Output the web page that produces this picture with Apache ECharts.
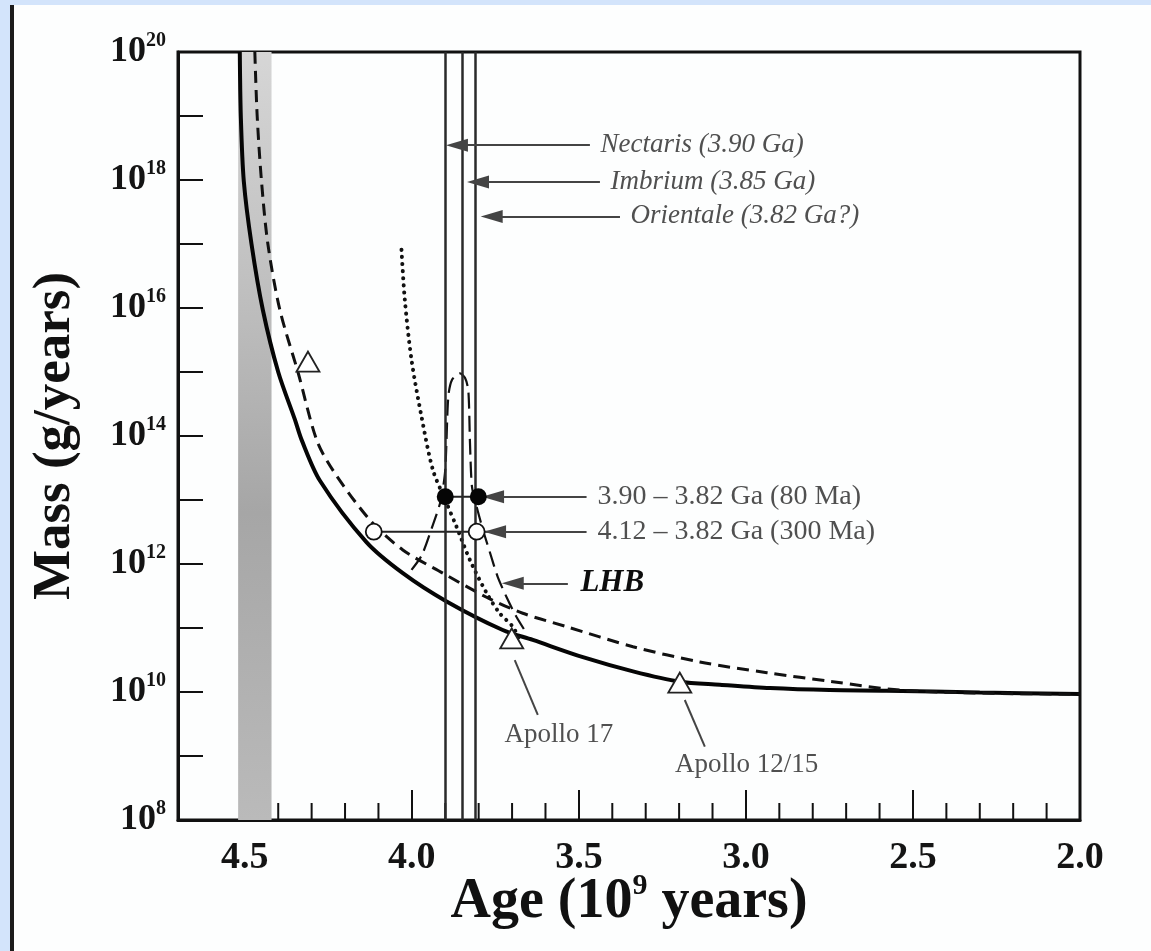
<!DOCTYPE html>
<html><head><meta charset="utf-8">
<script src="https://cdn.jsdelivr.net/npm/echarts@6/dist/echarts.min.js"></script>
<style>
html,body{margin:0;padding:0;width:1151px;height:951px;overflow:hidden;background:#d3e4fb;}
#panel{position:absolute;left:10px;top:5px;width:1141px;height:946px;background:#fdfefe;border-left:4px solid #1c1c1c;box-sizing:border-box;}
#chart{position:absolute;left:0;top:0;width:1151px;height:951px;}
</style></head><body>
<div id="panel"></div><div id="chart"></div>
<script>
// ---- data ----
const xTickLabels = ['2.0','2.5','3.0','3.5','4.0','4.5'];
const xMinorTicks = [2.1,2.2,2.3,2.4,2.6,2.7,2.8,2.9,3.1,3.2,3.3,3.4,3.6,3.7,3.8,3.9,4.1,4.2,4.3,4.4];
const yTickExponents = [8,10,12,14,16,18,20];

const solidAge  = [4.515,4.512,4.503,4.48,4.446,4.40,4.35,4.33,4.275,4.136,4.027,3.896,3.728,3.638,3.488,3.338,3.198,3.078,2.928,2.75,2.579,2.30,2.0];
const solidMass = [1e20,1e19,9.5e17,1e17,9.3e15,1e15,1.8e14,8.7e13,2e13,2.2e12,7.2e11,2.6e11,9.3e10,6.5e10,3.5e10,2.1e10,1.45e10,1.3e10,1.15e10,1.07e10,1.05e10,9.8e9,9.3e9];

const dashAge  = [4.47,4.463,4.45,4.431,4.395,4.341,4.285,4.237,4.126,4.027,3.907,3.775,3.668,3.537,3.338,3.138,2.937,2.74,2.539,2.24,2.0];
const dashMass = [1e20,1e19,9.5e17,1e17,9.3e15,1e15,8.7e13,2.95e13,4.9e12,1.66e12,7.2e11,3e11,1.7e11,1.05e11,5.1e10,2.95e10,2e10,1.45e10,1.07e10,9.5e9,9.3e9];

const dotAge  = [4.031,4.021,4.001,3.971,3.937,3.90,3.866,3.826,3.776,3.737,3.698,3.677];
const dotMass = [8.1e16,1.33e16,1.55e15,2e14,2.95e13,1e13,3.8e12,1.15e12,3.5e11,1.7e11,1.05e11,6.5e10];

const lhbAge  = [4.001,3.970,3.937,3.913,3.900,3.891,3.880,3.856,3.841,3.831,3.826,3.820,3.806,3.787,3.766,3.743,3.716,3.687,3.657];
const lhbMass = [8.1e11,1.38e12,4.1e12,1e13,3e13,4.1e14,7.5e14,9.5e14,8.1e14,5.2e14,7.8e13,1.6e13,7.8e12,3.4e12,1.5e12,6.3e11,3e11,1.5e11,8.3e10];

const basinAges = [3.90, 3.85, 3.81];           // Nectaris, Imbrium, Orientale lines
const triAge  = [4.311, 3.701, 3.198];
const triMass = [1.45e15, 6.9e10, 1.4e10];
const openAge  = [4.114, 3.806];
const openMass = [3.2e12, 3.2e12];
const fillAge  = [3.90, 3.801];
const fillMass = [1.12e13, 1.12e13];
const bandAges = [4.52, 4.42];

const zip = (a, b) => a.map((v, i) => [v, b[i]]);
const SERIF = 'Liberation Serif';
const TXT = '#505050';

function arrowLine(tipAge, tailAge, mass) {
  return [
    {coord: [tipAge, mass], symbol: 'triangle', symbolSize: [13, 22]},
    {coord: [tailAge, mass], symbol: 'none'}
  ];
}
function plainLine(a1, m1, a2, m2) {
  return [{coord: [a1, m1], symbol: 'none'}, {coord: [a2, m2], symbol: 'none'}];
}
function textItem(age, mass, text, style, pos) {
  return {value: [age, mass], label: Object.assign({show: true, position: pos || 'right', distance: 0, formatter: text,
    fontFamily: SERIF, color: TXT}, style)};
}

const chart = echarts.init(document.getElementById('chart'), null, {renderer: 'canvas'});
const option = {
  animation: false,
  backgroundColor: 'transparent',
  grid: {left: 178, right: 71, top: 52, bottom: 131, show: true, borderColor: '#111', borderWidth: 3, backgroundColor: 'transparent'},
  xAxis: {
    type: 'value', inverse: true, min: 2.0, max: 4.7, interval: 0.5,
    axisLine: {show: true, onZero: false, lineStyle: {color: '#111', width: 3}},
    axisTick: {show: true, inside: true, length: 30, lineStyle: {color: '#111', width: 2}},
    axisLabel: {margin: 19, fontFamily: SERIF, fontWeight: 'bold', fontSize: 38, color: '#141414',
      formatter: v => { const s = v.toFixed(1); return xTickLabels.includes(s) ? s : ''; }},
    splitLine: {show: false},
    name: '{t|Age (10}{s|9}{t| years)}', nameLocation: 'middle', nameGap: 51, nameMoveOverlap: false,
    nameTextStyle: {rich: {
      t: {fontFamily: SERIF, fontWeight: 'bold', fontSize: 56, color: '#111', lineHeight: 64},
      s: {fontFamily: SERIF, fontWeight: 'bold', fontSize: 30, color: '#111', verticalAlign: 'top', lineHeight: 30}
    }}
  },
  yAxis: {
    type: 'log', logBase: 10, min: 1e8, max: 1e20, interval: 1,
    axisLine: {show: true, onZero: false, lineStyle: {color: '#111', width: 3}},
    axisTick: {show: true, inside: true, length: 25, lineStyle: {color: '#111', width: 2}},
    axisLabel: {margin: 12, showMinLabel: true, showMaxLabel: true,
      formatter: v => { const e = Math.round(Math.log10(v)); return yTickExponents.includes(e) ? '{b|10}{s|' + e + '}' : ''; },
      rich: {
        b: {fontFamily: SERIF, fontWeight: 'bold', fontSize: 36, color: '#141414', lineHeight: 42},
        s: {fontFamily: SERIF, fontWeight: 'bold', fontSize: 20, color: '#141414', verticalAlign: 'top', lineHeight: 20}
      }},
    splitLine: {show: false},
    name: 'Mass (g/years)', nameLocation: 'middle', nameGap: 96,
    nameTextStyle: {fontFamily: SERIF, fontWeight: 'bold', fontSize: 53, color: '#111'}
  },
  series: [
    { // shaded band
      type: 'line', data: [], z: 1, silent: true,
      markArea: {silent: true, data: [[{xAxis: bandAges[0]}, {xAxis: bandAges[1]}]],
        itemStyle: {opacity: 1, color: {type: 'linear', x: 0, y: 0, x2: 0, y2: 1, colorStops: [
          {offset: 0, color: '#d6d6d6'}, {offset: 0.3, color: '#c0c0c0'}, {offset: 0.6, color: '#a6a6a6'}, {offset: 1, color: '#bababa'}]}}}
    },
    { // minor x ticks
      type: 'custom', silent: true, z: 3, clip: false,
      data: xMinorTicks.map(a => [a, 1e8]),
      renderItem: (params, api) => {
        const p = api.coord([api.value(0), api.value(1)]);
        return {type: 'line', shape: {x1: p[0], y1: p[1], x2: p[0], y2: p[1] - 17}, style: {stroke: '#111', lineWidth: 2}};
      }
    },
    { // basin vertical lines
      type: 'scatter', data: [[3.9, 1e8]], symbolSize: 0, silent: true, z: 2, itemStyle: {opacity: 1},
      markLine: {silent: true, symbol: 'none', label: {show: false},
        lineStyle: {color: '#2a2a2a', width: 2.5, type: 'solid', opacity: 1},
        data: basinAges.map(a => ({xAxis: a}))}
    },
    {type: 'line', name: 'solid', data: zip(solidAge, solidMass), smooth: 0.3, symbol: 'none', z: 4, silent: true,
      lineStyle: {color: '#050505', width: 4}},
    {type: 'line', name: 'dashed', data: zip(dashAge, dashMass), smooth: 0.3, symbol: 'none', z: 4, silent: true,
      lineStyle: {color: '#111', width: 3, type: [12, 7]}},
    {type: 'line', name: 'dotted', data: zip(dotAge, dotMass), smooth: 0.3, symbol: 'none', z: 4, silent: true,
      lineStyle: {color: '#111', width: 4, type: [0.1, 7], cap: 'round'}},
    {type: 'line', name: 'LHB', data: zip(lhbAge, lhbMass), smooth: 0.25, symbol: 'none', z: 4, silent: true,
      lineStyle: {color: '#111', width: 2.2, type: [16, 7]}},
    { // bracket lines
      type: 'line', data: zip(fillAge, fillMass), symbol: 'none', z: 4, silent: true,
      lineStyle: {color: '#222', width: 2}
    },
    {
      type: 'line', data: [[openAge[0], openMass[0]], [3.751, openMass[1]]], symbol: 'none', z: 4, silent: true,
      lineStyle: {color: '#222', width: 2}
    },
    { // arrows and leaders
      type: 'scatter', data: [[3.9, 1e8]], symbolSize: 0, silent: true, z: 5, itemStyle: {opacity: 1},
      markLine: {silent: true, label: {show: false}, lineStyle: {color: '#444', width: 2, type: 'solid', opacity: 1},
        itemStyle: {color: '#000', opacity: 1},
        data: [
          arrowLine(3.865, 3.467, 3.5e18),
          arrowLine(3.802, 3.437, 9.3e17),
          arrowLine(3.761, 3.377, 2.7e17),
          arrowLine(3.757, 3.477, 1.12e13),
          arrowLine(3.751, 3.477, 3.2e12),
          arrowLine(3.698, 3.533, 5e11),
          plainLine(3.692, 3.16e10, 3.623, 4.4e9),
          plainLine(3.183, 7.5e9, 3.123, 1.4e9)
        ]}
    },
    {type: 'scatter', data: zip(triAge, triMass), symbol: 'triangle', symbolSize: [23, 20], z: 6, silent: true,
      itemStyle: {color: '#fff', borderColor: '#222', borderWidth: 1.8, opacity: 1}},
    {type: 'scatter', data: zip(openAge, openMass), symbol: 'circle', symbolSize: 16, z: 6, silent: true,
      itemStyle: {color: '#fff', borderColor: '#111', borderWidth: 1.8, opacity: 1}},
    {type: 'scatter', data: zip(fillAge, fillMass), symbol: 'circle', symbolSize: 17, z: 6, silent: true,
      itemStyle: {color: '#050505', opacity: 1}},
    { // annotation texts
      type: 'scatter', symbolSize: 1, z: 7, silent: true, itemStyle: {color: 'rgba(0,0,0,0)', opacity: 1},
      data: [
        textItem(3.437, 3.5e18, 'Nectaris (3.90 Ga)', {fontStyle: 'italic', fontSize: 27}),
        textItem(3.407, 9.3e17, 'Imbrium (3.85 Ga)', {fontStyle: 'italic', fontSize: 27}),
        textItem(3.347, 2.7e17, 'Orientale (3.82 Ga?)', {fontStyle: 'italic', fontSize: 27}),
        textItem(3.446, 1.12e13, '3.90 – 3.82 Ga (80 Ma)', {fontSize: 28}),
        textItem(3.446, 3.2e12, '4.12 – 3.82 Ga (300 Ma)', {fontSize: 28}),
        textItem(3.497, 5e11, 'LHB', {fontStyle: 'italic', fontWeight: 'bold', fontSize: 31, color: '#0d0d0d'}),
        textItem(3.56, 2.15e9, 'Apollo 17', {fontSize: 27}, 'inside'),
        textItem(2.998, 7.3e8, 'Apollo 12/15', {fontSize: 27}, 'inside')
      ]
    }
  ]
};
chart.setOption(option);
</script></body></html>
